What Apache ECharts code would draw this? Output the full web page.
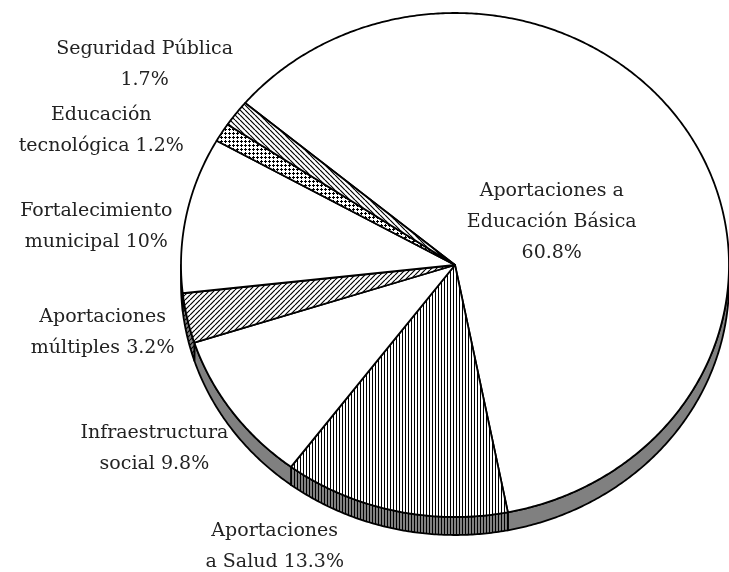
<!DOCTYPE html>
<html>
<head>
<meta charset="utf-8">
<script src="https://cdn.jsdelivr.net/npm/echarts@6/dist/echarts.min.js"></script>
<style>
    html, body { margin: 0; padding: 0; background: #fff; }
    #chart { width: 729px; height: 572px; }
</style>
</head>
<body>
<div id="chart"></div>
<script>
// fondos (en el orden del giro, en sentido horario)
const categories = [
    'Aportaciones a Educación Básica',
    'Aportaciones a Salud',
    'Infraestructura social',
    'Aportaciones múltiples',
    'Fortalecimiento municipal',
    'Educación tecnológica',
    'Seguridad Pública'
];
// participación (%)
const shares = [60.8, 13.3, 9.8, 3.2, 10, 1.2, 1.7];
// texto de las etiquetas, el porcentaje se agrega al final
const labelNames = [
    'Aportaciones a\nEducación Básica\n',
    'Aportaciones\na Salud ',
    'Infraestructura\nsocial ',
    'Aportaciones\nmúltiples ',
    'Fortalecimiento\nmunicipal ',
    'Educación\ntecnológica ',
    'Seguridad Pública\n'
];

// posición de las etiquetas (en unidades de la elipse)
const labelAt = [
    [0.353, 0.171], [-0.658, -1.117], [-1.097, -0.73], [-1.286, -0.27],
    [-1.309, 0.151], [-1.291, 0.534], [-1.133, 0.794]
];
const startAngle = 140;
const depth = 18;

/**
 * crea una trama repetible
 */
function makePattern(size, bg, draw) {
    const c = document.createElement('canvas');
    c.width = size;
    c.height = size;
    const ctx = c.getContext('2d');
    ctx.fillStyle = bg;
    ctx.fillRect(0, 0, size, size);
    ctx.fillStyle = '#000';
    ctx.strokeStyle = '#000';
    draw(ctx, size);
    return { image: c, repeat: 'repeat' };
}
const vLines = (ctx) => ctx.fillRect(0, 0, 1, 3);
const slashLines = (ctx, s) => {
    ctx.lineWidth = 1.2;
    ctx.beginPath();
    [-s, 0, s].forEach(o => { ctx.moveTo(o, s); ctx.lineTo(o + s, 0); });
    ctx.stroke();
};
const backLines = (ctx, s) => {
    ctx.lineWidth = 1.2;
    ctx.beginPath();
    [-s, 0, s].forEach(o => { ctx.moveTo(o, 0); ctx.lineTo(o + s, s); });
    ctx.stroke();
};
const dots = (ctx) => {
    ctx.fillRect(1, 0, 1, 3);
    ctx.fillRect(0, 1, 3, 1);
};

const gray = '#808080';
const topFill = [
    '#fff',
    makePattern(3, '#fff', vLines),
    '#fff',
    makePattern(5, '#fff', slashLines),
    '#fff',
    makePattern(4, '#fff', dots),
    makePattern(5, '#fff', backLines)
];
const sideFill = [
    gray,
    makePattern(3, gray, vLines),
    gray,
    makePattern(5, gray, slashLines),
    gray,
    gray,
    gray
];

function renderItem(params, api) {
    const i = params.dataIndex;
    const before = shares.slice(0, i).reduce((s, v) => s + v, 0);
    const a0 = startAngle - before * 3.6;
    const a1 = a0 - api.value(2) * 3.6;
    const rim = (from, to) => {
        const n = Math.ceil(Math.abs(to - from) / 0.5) + 1;
        const pts = [];
        for (let k = 0; k < n; k++) {
            const t = (from + (to - from) * k / (n - 1)) * Math.PI / 180;
            pts.push(api.coord([Math.cos(t), Math.sin(t)]));
        }
        return pts;
    };
    const children = [];
    // cara lateral (solo la mitad frontal)
    const hi = Math.min(a0, 0);
    const lo = Math.max(a1, -180);
    if (hi > lo) {
        const edge = rim(hi, lo);
        const side = edge.concat(edge.map(p => [p[0], p[1] + depth]).reverse());
        children.push({
            type: 'polygon',
            shape: { points: side },
            style: { fill: sideFill[i], stroke: '#000', lineWidth: 1.8, lineJoin: 'round' }
        });
    }
    const top = [api.coord([0, 0])].concat(rim(a0, a1));
    children.push({
        type: 'polygon',
        shape: { points: top },
        style: { fill: topFill[i], stroke: '#000', lineWidth: 1.8, lineJoin: 'round' }
    });
    const at = api.coord(labelAt[i]);
    children.push({
        type: 'text',
        x: at[0],
        y: at[1],
        style: {
            text: labelNames[i] + shares[i] + '%',
            fontFamily: 'DejaVu Serif',
            fontSize: 19,
            lineHeight: 31,
            fill: '#222',
            align: 'center',
            verticalAlign: 'middle'
        }
    });
    return { type: 'group', children };
}

const chart = echarts.init(document.getElementById('chart'));
chart.setOption({
    animation: false,
    grid: { left: 181, top: 13, width: 556, height: 504 },
    xAxis: { type: 'value', min: -1, max: 1, show: false },
    yAxis: { type: 'value', min: -1, max: 1, show: false },
    series: [{
        type: 'custom',
        clip: false,
        renderItem: renderItem,
        data: shares.map((v, i) => ({ name: categories[i], value: [0, 0, v] }))
    }]
});
</script>
</body>
</html>
